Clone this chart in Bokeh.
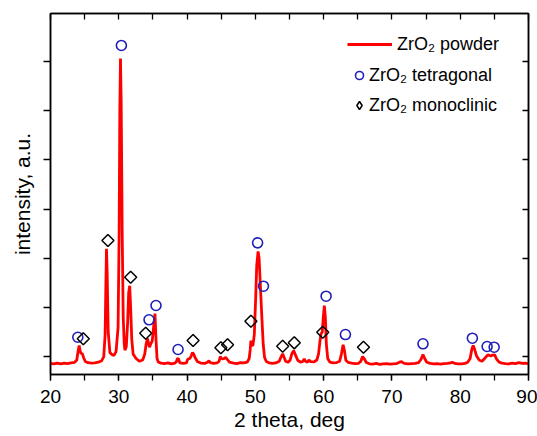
import numpy as np
from bokeh.plotting import figure
from bokeh.models import (LinearAxis, FixedTicker, SingleIntervalTicker, Range1d,
                          Legend, LegendItem, CustomJSTickFormatter)
from bokeh.embed import file_html
from bokeh.resources import INLINE

# ---- data ----
two_theta = [20.0, 20.5, 21.0, 21.5, 22.0, 22.5, 23.0, 23.5, 23.85, 24.05, 24.2, 24.35, 24.5, 24.65, 24.85,
             25.1, 25.5, 26.0, 26.5, 27.0, 27.5, 27.8, 28.0, 28.1, 28.2, 28.3, 28.45, 28.7, 29.0, 29.3,
             29.6, 29.9, 30.05, 30.15, 30.25, 30.35, 30.5, 30.65, 30.8, 30.9, 31.1, 31.3, 31.45, 31.6, 31.75,
             31.9, 32.1, 32.5, 33.0, 33.5, 33.8, 34.0, 34.2, 34.35, 34.5, 34.7, 34.9, 35.1, 35.3, 35.45,
             35.6, 35.8, 36.2, 36.7, 37.2, 37.7, 38.2, 38.45, 38.6, 38.75, 38.95, 39.5, 39.9, 40.1, 40.4,
             40.6, 40.8, 41.0, 41.15, 41.5, 42.0, 42.6, 43.0, 43.2, 43.4, 43.9, 44.4, 44.7, 44.85, 45.1,
             45.4, 45.65, 45.9, 46.2, 46.8, 47.3, 47.8, 48.3, 48.8, 49.1, 49.25, 49.35, 49.5, 49.65, 49.85,
             50.05, 50.2, 50.4, 50.55, 50.75, 50.95, 51.15, 51.35, 51.6, 52.0, 52.5, 53.0, 53.5, 53.75, 54.0,
             54.2, 54.45, 54.8, 55.1, 55.35, 55.6, 55.85, 56.2, 56.6, 56.95, 57.15, 57.35, 57.65, 57.85, 58.1,
             58.6, 59.0, 59.25, 59.45, 59.62, 59.8, 59.95, 60.1, 60.25, 60.4, 60.6, 60.9, 61.4, 61.9, 62.35,
             62.6, 62.85, 63.05, 63.25, 63.6, 64.1, 64.6, 65.1, 65.45, 65.7, 65.95, 66.25, 66.7, 67.2, 67.7,
             68.2, 68.7, 69.2, 69.7, 70.2, 70.7, 71.1, 71.4, 71.8, 72.4, 72.9, 73.4, 73.9, 74.25, 74.55,
             74.8, 75.1, 75.6, 76.1, 76.6, 77.1, 77.6, 78.1, 78.6, 78.85, 79.2, 79.7, 80.2, 80.7, 81.1,
             81.45, 81.7, 81.9, 82.1, 82.4, 82.8, 83.2, 83.6, 84.05, 84.45, 84.75, 85.05, 85.3, 85.7, 86.1,
             86.6, 87.1, 87.6, 88.1, 88.6, 89.1, 89.5, 90.0]
intensity = [860, 850, 868, 852, 865, 858, 870, 880, 930, 1120, 1225, 1110, 1055, 1065, 975,
             900, 875, 868, 872, 885, 915, 1000, 1450, 2400, 3190, 2700, 1500, 1080, 1040, 1025,
             1100, 1600, 3500, 6000, 7060, 6200, 3500, 1800, 1250, 1130, 1200, 1700, 2300, 2440, 1950,
             1350, 1050, 965, 905, 930, 1050, 1250, 1365, 1270, 1190, 1265, 1320, 1600, 1875, 1350,
             960, 885, 868, 858, 870, 852, 865, 900, 965, 950, 872, 862, 870, 945, 960,
             1010, 1085, 1040, 985, 900, 868, 862, 885, 915, 878, 860, 870, 905, 1000, 955,
             960, 985, 940, 885, 865, 858, 878, 870, 885, 960, 1150, 1325, 1225, 1230, 1450,
             2200, 2850, 3140, 3000, 2400, 1800, 1250, 980, 900, 872, 862, 870, 905, 990, 1055,
             985, 900, 885, 930, 1060, 1120, 1040, 925, 885, 900, 955, 900, 888, 930, 895,
             890, 930, 1050, 1300, 1465, 1500, 1800, 2035, 1800, 1250, 960, 888, 872, 878, 905,
             1050, 1240, 1120, 925, 880, 868, 858, 862, 905, 1000, 955, 880, 852, 848, 860,
             842, 852, 858, 845, 852, 858, 885, 895, 862, 850, 858, 862, 878, 940, 1040,
             960, 885, 860, 850, 858, 848, 855, 862, 872, 885, 860, 850, 852, 862, 885,
             960, 1150, 1225, 1150, 1010, 925, 905, 965, 1035, 1010, 1030, 1035, 955, 885, 868,
             858, 850, 868, 858, 878, 860, 868, 858]

tetragonal_x = [24.0, 30.38, 34.43, 35.45, 38.68, 50.33, 51.19, 60.36, 63.19, 74.55, 81.78, 83.94, 84.97]
tetragonal_y = [1393, 7327, 1747, 2038, 1143, 3313, 2431, 2227, 1448, 1259, 1373, 1204, 1190]

monoclinic_x = [24.8, 28.41, 31.74, 33.94, 40.88, 44.95, 45.93, 49.35, 54.0, 55.7, 59.87, 65.83]
monoclinic_y = [1361, 3360, 2614, 1475, 1326, 1178, 1239, 1719, 1210, 1279, 1495, 1190]

y_ticks = [1000, 2000, 3000, 4000, 5000, 6000, 7000]

FONT = "Liberation Sans"

p = figure(width=537, height=436, output_backend="svg", toolbar_location=None,
           x_range=Range1d(20, 90), y_range=Range1d(635, 7977),
           min_border_left=50, min_border_right=9, min_border_top=13, min_border_bottom=62)
p.background_fill_color = "white"
p.border_fill_color = "white"
p.outline_line_color = "black"
p.outline_line_width = 1.5
p.xgrid.grid_line_color = None
p.ygrid.grid_line_color = None

# bottom axis
xa = p.xaxis[0]
xa.ticker = SingleIntervalTicker(interval=10, num_minor_ticks=2)
xa.major_tick_in = 0
xa.major_tick_out = 6
xa.minor_tick_in = 0
xa.minor_tick_out = 6
xa.major_tick_line_width = 1.3
xa.minor_tick_line_width = 1.3
xa.axis_line_width = 1.5
xa.major_label_text_font = FONT
xa.major_label_text_font_size = "19px"
xa.major_label_text_color = "black"
xa.major_label_standoff = 9
xa.axis_label = "2 theta, deg"
xa.axis_label_text_font = FONT
xa.axis_label_text_font_size = "21px"
xa.axis_label_text_font_style = "normal"
xa.axis_label_text_color = "black"
xa.axis_label_standoff = 2

# left axis
ya = p.yaxis[0]
ya.ticker = FixedTicker(ticks=y_ticks, minor_ticks=[])
ya.formatter = CustomJSTickFormatter(code="return ''")
ya.major_label_text_font_size = "0px"
ya.major_label_standoff = 0
ya.major_tick_in = 0
ya.major_tick_out = 7
ya.major_tick_line_width = 1.3
ya.minor_tick_in = 0
ya.minor_tick_out = 0
ya.axis_line_width = 1.5
ya.axis_label = "intensity, a.u."
ya.axis_label_text_font = FONT
ya.axis_label_text_font_size = "21px"
ya.axis_label_text_font_style = "normal"
ya.axis_label_text_color = "black"
ya.axis_label_standoff = 10

# top axis (ticks inward, no labels)
top = LinearAxis(ticker=SingleIntervalTicker(interval=5, num_minor_ticks=0),
                 formatter=CustomJSTickFormatter(code="return ''"),
                 major_label_text_font_size="0px", major_label_standoff=0,
                 major_tick_in=6, major_tick_out=0, minor_tick_in=0, minor_tick_out=0,
                 major_tick_line_width=1.3, axis_line_width=1.5)
p.add_layout(top, "above")

# right axis (ticks inward, no labels)
right = LinearAxis(ticker=FixedTicker(ticks=y_ticks, minor_ticks=[]),
                   formatter=CustomJSTickFormatter(code="return ''"),
                   major_label_text_font_size="0px", major_label_standoff=0,
                   major_tick_in=6, major_tick_out=0, minor_tick_in=0, minor_tick_out=0,
                   major_tick_line_width=1.3, axis_line_width=1.5)
p.add_layout(right, "right")

line_r = p.line(two_theta, intensity, line_color="#FF0000", line_width=2.8)
tet_r = p.scatter(tetragonal_x, tetragonal_y, marker="circle", size=10,
                  fill_color=None, line_color="#2020B8", line_width=1.6)
mono_r = p.scatter(monoclinic_x, monoclinic_y, marker="square", angle=np.pi / 4, size=8.5,
                   fill_color=None, line_color="black", line_width=1.5)
# legend-only glyph (diamond shape, since legends ignore the marker angle); not drawn in the plot
mono_leg = p.scatter(x=[np.nan], y=[np.nan], marker="diamond", size=10,
                     fill_color=None, line_color="black", line_width=1.5)

common = dict(padding=0, margin=0, border_line_color=None, background_fill_alpha=0,
              label_text_font=FONT, label_text_font_size="18px", label_text_color="black",
              label_height=22)
leg1 = Legend(items=[LegendItem(label="ZrO\u2082 powder", renderers=[line_r])],
              location=(297, 319), glyph_width=45, glyph_height=22, label_standoff=5, **common)
leg2 = Legend(items=[LegendItem(label="ZrO\u2082 tetragonal", renderers=[tet_r]),
                     LegendItem(label="ZrO\u2082 monoclinic", renderers=[mono_leg])],
              location=(299, 258), glyph_width=20, glyph_height=20, label_standoff=0,
              spacing=8, **common)
p.add_layout(leg1)
p.add_layout(leg2)

open("out.html", "w").write(file_html(p, INLINE))
